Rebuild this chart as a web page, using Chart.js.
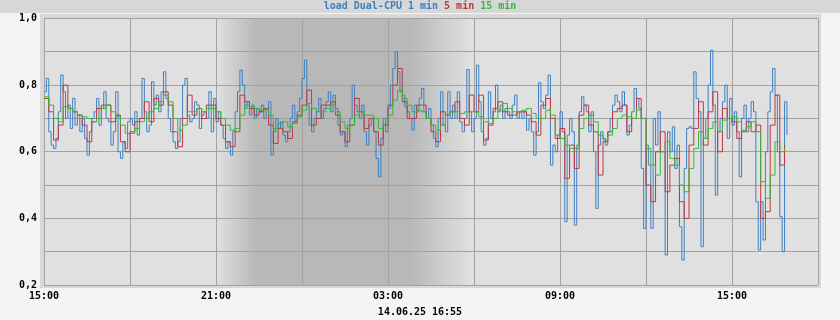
<!DOCTYPE html>
<html><head><meta charset="utf-8">
<script src="https://cdn.jsdelivr.net/npm/chart.js@4/dist/chart.umd.min.js"></script>
<style>html,body{margin:0;padding:0;background:#f4f4f4;}canvas{display:block;}</style>
</head><body>
<canvas id="c" width="840" height="320"></canvas>
<script>
// hours after 15:00 of the first day
const xTickHours = [0, 6, 12, 18, 24];
const xTickLabels = ['15:00', '21:00', '03:00', '09:00', '15:00'];
const yTickValues = [0.2, 0.4, 0.6, 0.8, 1.0];
const yTickLabels = ['0,2', '0,4', '0,6', '0,8', '1,0'];
const titleParts = [['load Dual-CPU 1 min', 'blue'], [' 5 min', 'red'], [' 15 min', 'green']];
const footerText = '14.06.25 16:55';
const nightStart = 6.0, nightFull = 7.4, nightFade = 12.8, nightEnd = 14.9;

// 1 min load, one value every 5 minutes
const load1 = [
0.78,0.82,0.66,0.62,0.61,0.64,0.72,0.83,0.78,0.70,
0.74,0.67,0.76,0.68,0.71,0.66,0.70,0.64,0.59,0.66,
0.70,0.72,0.76,0.68,0.73,0.78,0.70,0.69,0.62,0.66,
0.78,0.60,0.58,0.63,0.61,0.69,0.70,0.68,0.72,0.65,
0.70,0.82,0.72,0.66,0.68,0.81,0.74,0.77,0.72,0.78,
0.84,0.76,0.70,0.66,0.63,0.61,0.63,0.70,0.80,0.82,
0.71,0.69,0.70,0.75,0.74,0.67,0.71,0.72,0.70,0.78,
0.66,0.76,0.69,0.72,0.68,0.64,0.61,0.63,0.59,0.66,
0.72,0.78,0.845,0.80,0.73,0.75,0.71,0.74,0.70,0.73,
0.72,0.74,0.70,0.73,0.75,0.59,0.66,0.70,0.67,0.69,
0.65,0.63,0.66,0.70,0.74,0.69,0.72,0.76,0.82,0.875,
0.74,0.68,0.66,0.70,0.72,0.76,0.70,0.73,0.75,0.78,
0.72,0.77,0.73,0.68,0.65,0.66,0.615,0.68,0.70,0.80,
0.74,0.72,0.70,0.74,0.66,0.62,0.68,0.70,0.66,0.58,
0.525,0.64,0.70,0.66,0.73,0.80,0.85,0.90,0.84,0.78,
0.77,0.735,0.72,0.70,0.665,0.74,0.72,0.76,0.79,0.72,
0.70,0.73,0.68,0.64,0.615,0.70,0.78,0.68,0.66,0.78,
0.70,0.74,0.70,0.78,0.69,0.66,0.70,0.847,0.72,0.66,
0.70,0.86,0.75,0.66,0.62,0.64,0.78,0.70,0.72,0.80,
0.72,0.74,0.70,0.73,0.72,0.70,0.74,0.77,0.70,0.72,
0.70,0.72,0.665,0.70,0.66,0.59,0.66,0.807,0.75,0.73,
0.77,0.83,0.56,0.62,0.60,0.65,0.72,0.66,0.39,0.65,
0.70,0.66,0.38,0.62,0.72,0.765,0.74,0.72,0.66,0.72,
0.60,0.43,0.62,0.66,0.64,0.62,0.66,0.70,0.74,0.77,
0.75,0.72,0.78,0.74,0.65,0.68,0.72,0.79,0.76,0.73,
0.55,0.37,0.62,0.56,0.37,0.70,0.62,0.72,0.60,0.60,
0.29,0.66,0.60,0.675,0.55,0.62,0.375,0.275,0.55,0.67,
0.675,0.67,0.84,0.76,0.72,0.315,0.64,0.70,0.80,0.905,
0.74,0.47,0.66,0.70,0.75,0.80,0.64,0.76,0.68,0.72,
0.66,0.525,0.70,0.74,0.66,0.70,0.75,0.72,0.45,0.305,
0.45,0.335,0.60,0.72,0.78,0.85,0.77,0.60,0.405,0.30,
0.75,0.65
];
// 5 min load, one value every 10 minutes
const load5 = [
0.76,0.72,0.635,0.68,0.80,0.73,0.72,0.71,0.68,0.63,
0.69,0.73,0.74,0.74,0.69,0.71,0.63,0.60,0.66,0.69,
0.70,0.75,0.69,0.76,0.74,0.78,0.74,0.66,0.615,0.70,
0.77,0.71,0.73,0.70,0.74,0.74,0.70,0.68,0.63,0.615,
0.66,0.77,0.75,0.73,0.71,0.72,0.73,0.68,0.625,0.67,
0.66,0.64,0.69,0.71,0.74,0.785,0.68,0.70,0.74,0.74,
0.75,0.71,0.66,0.63,0.68,0.76,0.72,0.67,0.70,0.66,
0.62,0.68,0.74,0.80,0.85,0.75,0.70,0.70,0.74,0.74,
0.70,0.66,0.63,0.72,0.71,0.72,0.75,0.70,0.68,0.77,
0.72,0.77,0.635,0.68,0.73,0.75,0.72,0.71,0.71,0.72,
0.72,0.71,0.69,0.65,0.74,0.76,0.70,0.64,0.67,0.52,
0.62,0.55,0.71,0.74,0.68,0.66,0.53,0.63,0.66,0.72,
0.73,0.74,0.66,0.70,0.76,0.70,0.50,0.45,0.60,0.66,
0.48,0.56,0.58,0.45,0.40,0.62,0.67,0.75,0.62,0.72,
0.78,0.60,0.73,0.70,0.69,0.64,0.66,0.69,0.66,0.68,
0.40,0.42,0.68,0.77,0.56,0.62
];
// 15 min load, one value every 10 minutes
const load15 = [
0.765,0.74,0.70,0.69,0.735,0.73,0.72,0.71,0.705,0.70,
0.69,0.70,0.73,0.74,0.72,0.705,0.68,0.655,0.655,0.67,
0.69,0.70,0.72,0.73,0.75,0.77,0.75,0.70,0.665,0.68,
0.72,0.72,0.73,0.72,0.73,0.73,0.72,0.70,0.68,0.665,
0.67,0.71,0.74,0.735,0.73,0.725,0.725,0.71,0.67,0.685,
0.69,0.675,0.685,0.705,0.725,0.745,0.73,0.72,0.72,0.73,
0.74,0.72,0.69,0.67,0.68,0.71,0.72,0.71,0.71,0.70,
0.67,0.68,0.71,0.755,0.785,0.76,0.74,0.72,0.725,0.72,
0.70,0.68,0.665,0.68,0.71,0.72,0.72,0.715,0.72,0.72,
0.72,0.705,0.69,0.685,0.70,0.725,0.745,0.73,0.72,0.72,
0.725,0.73,0.715,0.70,0.70,0.725,0.71,0.65,0.64,0.62,
0.61,0.61,0.67,0.70,0.71,0.69,0.65,0.635,0.65,0.67,
0.70,0.71,0.705,0.70,0.725,0.70,0.61,0.56,0.53,0.60,
0.63,0.58,0.56,0.50,0.48,0.55,0.61,0.66,0.64,0.67,
0.69,0.66,0.695,0.70,0.705,0.69,0.665,0.675,0.69,0.66,
0.51,0.46,0.53,0.63,0.60,0.61
];

const COL = { blue: '#3d80c2', red: '#c4373a', green: '#35b835' };
const FONT = 'bold 10px "DejaVu Sans Mono", "Liberation Mono", monospace';

const bgPlugin = {
  id: 'bg',
  beforeDraw(chart) {
    const ctx = chart.ctx, a = chart.chartArea, xs = chart.scales.x;
    ctx.save();
    ctx.fillStyle = '#f4f4f4'; ctx.fillRect(0, 0, 840, 320);
    ctx.fillStyle = '#d7d7d7'; ctx.fillRect(0, 0, 840, 13);
    ctx.fillStyle = '#d8d8d8'; ctx.fillRect(a.left - 4, a.top - 4.5, a.right - a.left + 7, a.bottom - a.top + 7.5);
    ctx.fillStyle = '#e0e0e0'; ctx.fillRect(a.left, a.top, a.right - a.left, a.bottom - a.top);
    const x0 = xs.getPixelForValue(nightStart), x1 = xs.getPixelForValue(nightFull);
    const x2 = xs.getPixelForValue(nightFade), x3 = xs.getPixelForValue(nightEnd);
    const g = ctx.createLinearGradient(x0, 0, x3, 0);
    const span = x3 - x0;
    g.addColorStop(0, 'rgba(184,184,184,0)');
    g.addColorStop((x1 - x0) / span, 'rgba(184,184,184,1)');
    g.addColorStop((x2 - x0) / span, 'rgba(184,184,184,1)');
    g.addColorStop(1, 'rgba(184,184,184,0)');
    ctx.fillStyle = g; ctx.fillRect(x0, a.top, x3 - x0, a.bottom - a.top);
    ctx.restore();
  },
  afterDraw(chart) {
    const ctx = chart.ctx;
    ctx.save();
    ctx.font = FONT; ctx.textBaseline = 'middle'; ctx.textAlign = 'left';
    let total = 0;
    titleParts.forEach(p => total += ctx.measureText(p[0]).width);
    let x = 420 - total / 2;
    titleParts.forEach(p => { ctx.fillStyle = COL[p[1]]; ctx.fillText(p[0], x, 6); x += ctx.measureText(p[0]).width; });
    ctx.fillStyle = '#000'; ctx.textAlign = 'center';
    ctx.fillText(footerText, 420, 312);
    ctx.restore();
  }
};

const ds = (arr, stepMin, color) => ({
  data: arr.map((v, i) => ({ x: i * stepMin / 60, y: v })),
  borderColor: color, borderWidth: 1, pointRadius: 0, stepped: true, tension: 0, fill: false
});

new Chart(document.getElementById('c'), {
  type: 'line',
  data: { datasets: [ds(load15, 10, COL.green), ds(load5, 10, COL.red), ds(load1, 5, COL.blue)] },
  options: {
    responsive: false, animation: false, events: [],
    layout: { padding: { top: 18.5, right: 22, left: 0, bottom: 0 } },
    plugins: { legend: { display: false }, tooltip: { enabled: false } },
    scales: {
      x: {
        type: 'linear', min: 0, max: 27,
        afterBuildTicks(s) { const t = []; for (let h = 0; h <= 27; h += 3) t.push({ value: h }); s.ticks = t; },
        afterFit(s) { s.height = 35; },
        ticks: {
          autoSkip: false, maxRotation: 0, padding: 5, color: '#000',
          font: { family: '"DejaVu Sans Mono", monospace', size: 10, weight: 'bold' },
          callback(v) { const k = xTickHours.indexOf(v); return k >= 0 ? xTickLabels[k] : ''; }
        },
        grid: { color: '#a2a2a2', drawTicks: false, lineWidth: 1 },
        border: { display: false }
      },
      y: {
        min: 0.2, max: 1.0,
        afterBuildTicks(s) { const t = []; for (let k = 2; k <= 10; k++) t.push({ value: k / 10 }); s.ticks = t; },
        afterFit(s) { s.width = 44; },
        ticks: {
          padding: 7, color: '#000',
          font: { family: '"DejaVu Sans Mono", monospace', size: 10, weight: 'bold' },
          callback(v) { const k = yTickValues.findIndex(t => Math.abs(t - v) < 1e-6); return k >= 0 ? yTickLabels[k] : ''; }
        },
        grid: { color: '#a2a2a2', drawTicks: false, lineWidth: 1 },
        border: { display: false }
      }
    }
  },
  plugins: [bgPlugin]
});
</script>
</body></html>
